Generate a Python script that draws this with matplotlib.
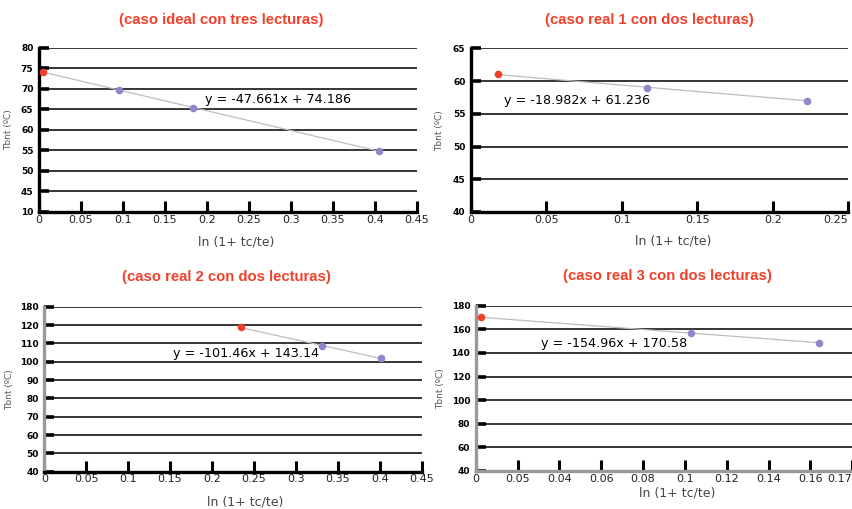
import numpy as np
import matplotlib
matplotlib.use("Agg")
import matplotlib.pyplot as plt

# datos
titles = ["(caso ideal con tres lecturas)", "(caso real 1 con dos lecturas)",
          "(caso real 2 con dos lecturas)", "(caso real 3 con dos lecturas)"]
equations = ["y = -47.661x + 74.186", "y = -18.982x + 61.236",
             "y = -101.46x + 143.14", "y = -154.96x + 170.58"]

x1 = [0.005, 0.095, 0.183, 0.405]
y1 = [74.0, 69.8, 65.4, 54.8]
x2 = [0.018, 0.117, 0.223]
y2 = [61.0, 59.0, 57.0]
x3 = [0.234, 0.331, 0.401]
y3 = [118.7, 108.7, 101.9]
x4 = [0.0025, 0.103, 0.164]
y4 = [170.2, 156.6, 148.7]

yticks1 = [10, 45, 50, 55, 60, 65, 70, 75, 80]
yticks2 = [40, 45, 50, 55, 60, 65]
yticks3 = [40, 50, 60, 70, 80, 90, 100, 110, 120, 180]
yticks4 = [40, 60, 80, 100, 120, 140, 160, 180]

xticks1 = [0, 0.05, 0.1, 0.15, 0.2, 0.25, 0.3, 0.35, 0.4, 0.45]
xticks2 = [0, 0.05, 0.1, 0.15, 0.2, 0.25]
xticks4 = [0, 0.02, 0.04, 0.06, 0.08, 0.1, 0.12, 0.14, 0.16, 0.18]
xlabels4 = ["0", "0.05", "0.04", "0.06", "0.08", "0.1", "0.12", "0.14", "0.16", "0.17"]

RED = "#f0402c"
PURPLE = "#8e88c8"

fig = plt.figure(figsize=(8.53, 5.09), dpi=100)


def piecewise(breaks, pos):
    fwd = lambda v: np.interp(v, breaks, pos)
    inv = lambda p: np.interp(p, pos, breaks)
    return fwd, inv


def panel(rect, xs, ys, yticks, xticks, xlabels, eq, eqpos, ylab_x, xlab_xy,
          left_col="black", bottom_col="black", yscale=None):
    ax = fig.add_axes(rect)
    if yscale is not None:
        ax.set_yscale("function", functions=piecewise(*yscale))
    ax.set_xlim(xticks[0], xticks[-1])
    ax.set_ylim(yticks[0], yticks[-1])
    for v in yticks[1:]:
        ax.axhline(v, color="black", lw=1.1, zorder=1)
    # linea de tendencia
    m, b = np.polyfit(xs, ys, 1)
    xx = np.array([min(xs), max(xs)])
    ax.plot(xx, m * xx + b, color="#bdbdbd", lw=0.9, zorder=2)
    ax.scatter(xs[:1], ys[:1], s=30, color=RED, zorder=3, linewidths=0)
    ax.scatter(xs[1:], ys[1:], s=30, color=PURPLE, zorder=3, linewidths=0)
    ax.text(eqpos[0], eqpos[1], eq, fontsize=9.2, va="center", ha="left", zorder=4)

    ax.set_yticks(yticks)
    ax.set_yticklabels([str(v) for v in yticks], fontsize=6.5, fontweight="bold")
    ax.set_xticks(xticks)
    ax.set_xticklabels(xlabels if xlabels else [("%g" % v) for v in xticks], fontsize=8,
                       color="#222222")
    ax.tick_params(axis="y", direction="in", length=7, width=2.6, pad=4, color="black")
    ax.tick_params(axis="x", direction="in", length=8, width=2.2, pad=2, color="black")
    ax.spines["top"].set_visible(False)
    ax.spines["right"].set_visible(False)
    ax.spines["left"].set_linewidth(2.4)
    ax.spines["left"].set_color(left_col)
    ax.spines["bottom"].set_linewidth(2.4)
    ax.spines["bottom"].set_color(bottom_col)
    ax.patch.set_alpha(0)

    ax.set_ylabel("Tbnt (ºC)", fontsize=6.5, color="#555555")
    ax.yaxis.set_label_coords(ylab_x, 0.5)
    ax.set_xlabel("ln (1+ tc/te)", fontsize=9, color="#444444", va="top")
    ax.xaxis.set_label_coords(*xlab_xy)
    return ax


panel([0.0457, 0.5835, 0.443, 0.3228], x1, y1, yticks1, xticks1, None,
      equations[0], (0.198, 67.3), -0.069, (0.522, -0.146),
      yscale=([10, 45, 80], [0, 1, 8]))
ax2 = panel([0.5522, 0.5835, 0.442, 0.3216], x2, y2, yticks2, xticks2, None,
            equations[1], (0.022, 57.0), -0.072, (0.535, -0.14))
ax2.get_xticklabels()[-1].set_horizontalalignment("right")
panel([0.0519, 0.0733, 0.4424, 0.3242], x3, y3, yticks3, xticks1, None,
      equations[2], (0.153, 104.4), -0.08, (0.532, -0.147),
      left_col="#999999", yscale=([40, 120, 180], [0, 8, 9]))
ax4 = panel([0.5577, 0.0747, 0.4415, 0.3248], x4, y4, yticks4, xticks4, xlabels4,
            equations[3], (0.031, 147.9), -0.082, (0.534, -0.095),
            left_col="#999999", bottom_col="#999999")
ax4.get_xticklabels()[-1].set_horizontalalignment("right")

title_pos = [(0.259, 0.961), (0.761, 0.961), (0.265, 0.456), (0.7825, 0.458)]
for t, (tx, ty) in zip(titles, title_pos):
    fig.text(tx, ty, t, color=RED, fontsize=10.7, fontweight="bold",
             family="Liberation Sans", ha="center", va="center")

fig.savefig("out.png", dpi=100)
